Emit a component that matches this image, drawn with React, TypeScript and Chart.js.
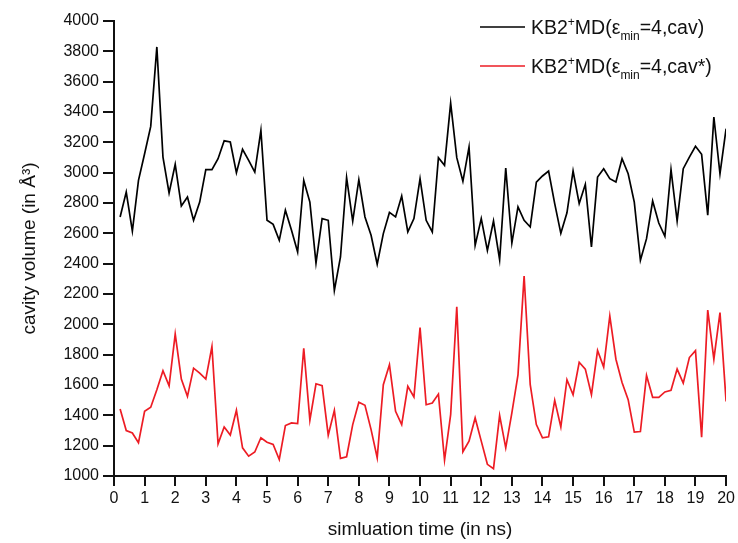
import React, { useEffect, useRef } from 'react';
import { Chart, registerables } from 'chart.js';

Chart.register(...registerables);

const times = [
  0.2, 0.4, 0.6, 0.8, 1.0, 1.2, 1.4, 1.6, 1.8, 2.0,
  2.2, 2.4, 2.6, 2.8, 3.0, 3.2, 3.4, 3.6, 3.8, 4.0,
  4.2, 4.4, 4.6, 4.8, 5.0, 5.2, 5.4, 5.6, 5.8, 6.0,
  6.2, 6.4, 6.6, 6.8, 7.0, 7.2, 7.4, 7.6, 7.8, 8.0,
  8.2, 8.4, 8.6, 8.8, 9.0, 9.2, 9.4, 9.6, 9.8, 10.0,
  10.2, 10.4, 10.6, 10.8, 11.0, 11.2, 11.4, 11.6, 11.8, 12.0,
  12.2, 12.4, 12.6, 12.8, 13.0, 13.2, 13.4, 13.6, 13.8, 14.0,
  14.2, 14.4, 14.6, 14.8, 15.0, 15.2, 15.4, 15.6, 15.8, 16.0,
  16.2, 16.4, 16.6, 16.8, 17.0, 17.2, 17.4, 17.6, 17.8, 18.0,
  18.2, 18.4, 18.6, 18.8, 19.0, 19.2, 19.4, 19.6, 19.8, 20.0,
];

const cavValues = [
  2708, 2872, 2615, 2949, 3125, 3305, 3829, 3103, 2866, 3055,
  2780, 2840, 2686, 2806, 3020, 3020, 3092, 3210, 3202, 3000,
  3154, 3081, 3004, 3279, 2686, 2659, 2554, 2752, 2620, 2477,
  2949, 2806, 2404, 2697, 2686, 2224, 2444, 2967, 2681, 2954,
  2708, 2587, 2396, 2598, 2738, 2708, 2846, 2609, 2697, 2960,
  2686, 2609, 3099, 3048, 3459, 3099, 2943, 3169, 2521, 2697,
  2488, 2681, 2426, 3031, 2536, 2774, 2686, 2642, 2938, 2978,
  3011, 2796, 2600, 2735, 3011, 2796, 2923, 2510, 2971, 3026,
  2960, 2938, 3092, 2993, 2806, 2422, 2565, 2813, 2668, 2580,
  3020, 2681, 3026, 3103, 3174, 3121, 2719, 3367, 2993, 3290,
];

const cavStarValues = [
  1442, 1300, 1284, 1219, 1427, 1453, 1569, 1694, 1595, 1936,
  1639, 1525, 1711, 1678, 1639, 1853, 1212, 1323, 1270, 1433,
  1186, 1131, 1158, 1252, 1223, 1208, 1109, 1333, 1350, 1346,
  1842, 1368, 1608, 1595, 1269, 1433, 1116, 1127, 1339, 1486,
  1466, 1306, 1120, 1602, 1733, 1427, 1339, 1591, 1521, 1978,
  1470, 1481, 1540, 1105, 1405, 2116, 1160, 1230, 1383, 1230,
  1077, 1048, 1400, 1186, 1416, 1667, 2319, 1602, 1339, 1252,
  1258, 1499, 1324, 1635, 1536, 1750, 1705, 1536, 1827, 1718,
  2055, 1770, 1617, 1503, 1289, 1293, 1663, 1519, 1519, 1554,
  1565, 1705, 1613, 1781, 1827, 1256, 2094, 1770, 2077, 1492,
];

const seriesNames = ['cav', 'cav*'];
const xTitle = 'simluation time (in ns)';
const yTitle = 'cavity volume (in Å³)';

const FONT = '"Liberation Sans", Arial, sans-serif';
const RED = 'rgb(237,28,36)';

const legendPlugin = {
  id: 'customLegend',
  afterDraw(chart: any) {
    const ctx = chart.ctx;
    const rows = [
      { y: 27, color: '#000', tail: '=4,' + seriesNames[0] + ')' },
      { y: 66, color: RED, tail: '=4,' + seriesNames[1] + ')' },
    ];
    ctx.save();
    ctx.textBaseline = 'alphabetic';
    ctx.textAlign = 'left';
    for (const r of rows) {
      ctx.strokeStyle = r.color;
      ctx.lineWidth = 1.6;
      ctx.beginPath();
      ctx.moveTo(480, r.y);
      ctx.lineTo(525, r.y);
      ctx.stroke();
      const base = r.y + 7;
      let x = 531;
      ctx.fillStyle = '#111';
      const big = '19.5px ' + FONT;
      const small = '12px ' + FONT;
      const draw = (t: string, f: string, dy: number) => {
        ctx.font = f;
        ctx.fillText(t, x, base + dy);
        x += ctx.measureText(t).width;
      };
      draw('KB2', big, 0);
      draw('+', small, -8);
      draw('MD(ε', big, 0);
      draw('min', small, 6);
      draw(r.tail, big, 0);
    }
    ctx.restore();
  },
};

export default function App() {
  const canvasRef = useRef<HTMLCanvasElement | null>(null);

  useEffect(() => {
    const canvas = canvasRef.current;
    if (!canvas) return;
    const chart = new Chart(canvas, {
      type: 'line',
      data: {
        datasets: [
          {
            label: seriesNames[0],
            data: times.map((t, i) => ({ x: t, y: cavValues[i] })),
            borderColor: '#000',
            borderWidth: 1.7,
            pointRadius: 0,
            tension: 0,
          },
          {
            label: seriesNames[1],
            data: times.map((t, i) => ({ x: t, y: cavStarValues[i] })),
            borderColor: RED,
            borderWidth: 1.7,
            pointRadius: 0,
            tension: 0,
          },
        ],
      },
      options: {
        animation: false,
        responsive: false,
        maintainAspectRatio: false,
        layout: { padding: { left: 0, top: 21, right: 11, bottom: 0 } },
        plugins: {
          legend: { display: false },
          tooltip: { enabled: false },
        },
        scales: {
          x: {
            type: 'linear',
            min: 0,
            max: 20,
            ticks: {
              stepSize: 1,
              color: '#111',
              font: { family: FONT, size: 16 },
              padding: 3,
              maxRotation: 0,
              autoSkip: false,
              callback: (v: any) => String(v),
            },
            grid: {
              display: true,
              drawOnChartArea: false,
              drawTicks: true,
              tickLength: 10,
              color: '#111',
              lineWidth: 2,
            },
            border: { display: true, color: '#111', width: 2 },
            title: {
              display: true,
              text: xTitle,
              color: '#111',
              font: { family: FONT, size: 19 },
              padding: { top: 0, bottom: 2 },
            },
            afterFit: (scale: any) => {
              scale.height = 67;
            },
          },
          y: {
            type: 'linear',
            min: 1000,
            max: 4000,
            ticks: {
              stepSize: 200,
              color: '#111',
              font: { family: FONT, size: 16 },
              padding: 4,
              autoSkip: false,
              callback: (v: any) => String(v),
            },
            grid: {
              display: true,
              drawOnChartArea: false,
              drawTicks: true,
              tickLength: 11,
              color: '#111',
              lineWidth: 2,
            },
            border: { display: true, color: '#111', width: 2 },
            title: {
              display: true,
              text: yTitle,
              color: '#111',
              font: { family: FONT, size: 19 },
              padding: { top: 18, bottom: 0 },
            },
            afterFit: (scale: any) => {
              scale.width = 114;
            },
          },
        },
      },
      plugins: [legendPlugin],
    } as any);
    return () => chart.destroy();
  }, []);

  return (
    <div style={{ position: 'fixed', left: 0, top: 0, width: 738, height: 543, background: '#fff' }}>
      <canvas ref={canvasRef} width={738} height={543} style={{ display: 'block' }} />
    </div>
  );
}
